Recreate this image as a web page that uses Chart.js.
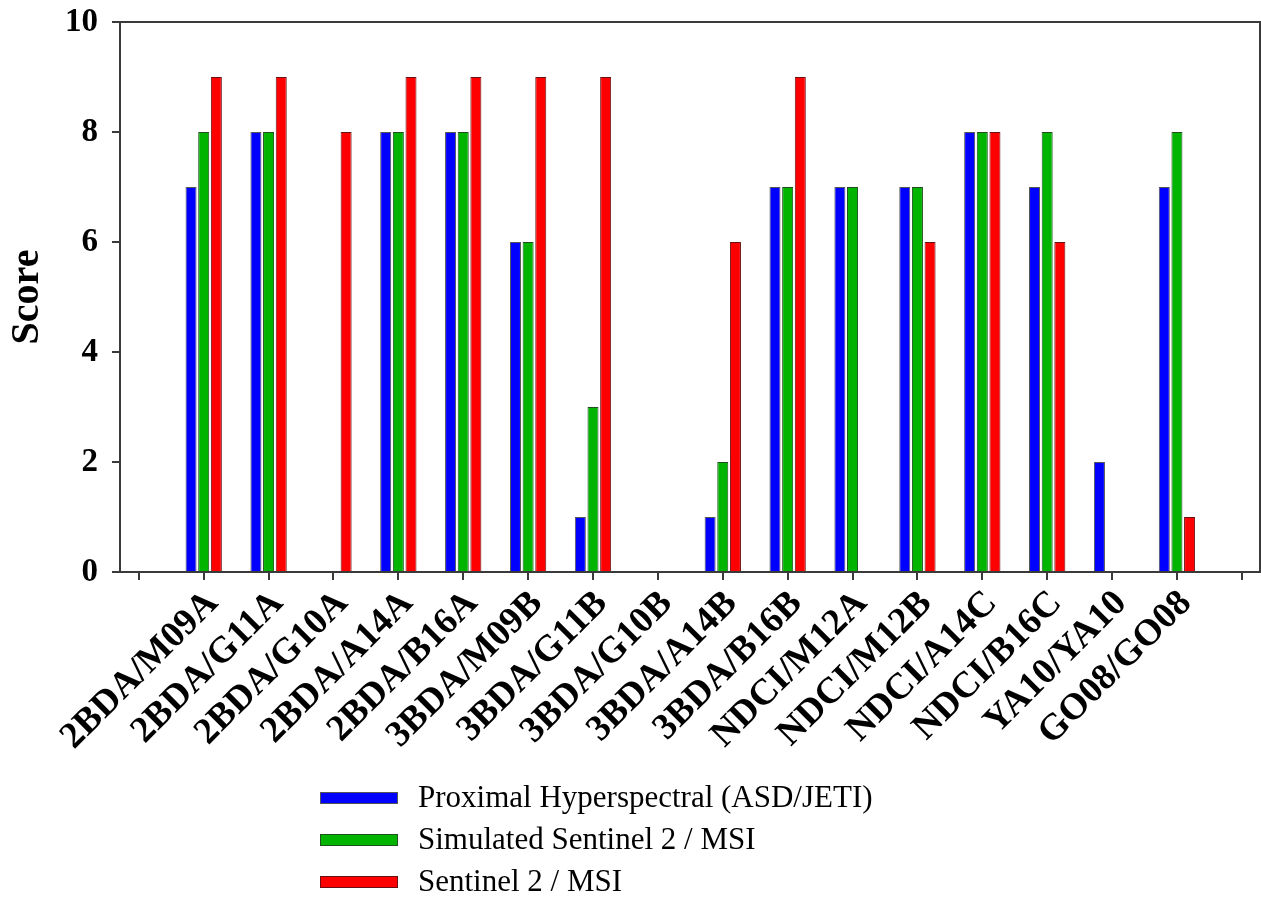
<!DOCTYPE html>
<html>
<head>
<meta charset="utf-8">
<script src="https://cdn.jsdelivr.net/npm/chart.js@4"></script>
<style>
  html, body { margin: 0; padding: 0; background: #fff; }
  #wrap { width: 1261px; height: 897px; }
</style>
</head>
<body>
<div id="wrap"><canvas id="myChart" width="1261" height="897"></canvas></div>
<script>
// categories and scores
var categories = ["2BDA/M09A", "2BDA/G11A", "2BDA/G10A", "2BDA/A14A", "2BDA/B16A", "3BDA/M09B", "3BDA/G11B", "3BDA/G10B",
                  "3BDA/A14B", "3BDA/B16B", "NDCI/M12A", "NDCI/M12B", "NDCI/A14C", "NDCI/B16C", "YA10/YA10", "GO08/GO08"];
var proximalScores  = [7, 8, 0, 8, 8, 6, 1, 0, 1, 7, 7, 7, 8, 7, 2, 7];
var simulatedScores = [8, 8, 0, 8, 8, 6, 3, 0, 2, 7, 7, 7, 8, 8, 0, 8];
var sentinelScores  = [9, 9, 8, 9, 9, 9, 9, 0, 6, 9, 0, 6, 8, 6, 0, 1];
var yTicks = [0, 2, 4, 6, 8, 10];

var serif = "'Times New Roman', 'Liberation Serif', serif";
var axisColor = '#3a3a3a';

// turn a score list into {x, y} points, x = 1..16
function toPoints(values) {
    return values.map(function (v, i) { return { x: i + 1, y: v }; });
}

/******************************************************/
// box round the plot + the stacked legend under the axis
var framePlugin = {
    id: 'frame',
    afterDraw: function (chart) {
        var ctx = chart.ctx;
        var a = chart.chartArea;
        ctx.save();
        ctx.strokeStyle = axisColor;
        ctx.lineWidth = 2;
        ctx.beginPath();
        ctx.moveTo(a.left, a.top);
        ctx.lineTo(a.right, a.top);
        ctx.lineTo(a.right, a.bottom);
        ctx.stroke();

        // legend rows
        chart.data.datasets.forEach(function (ds, i) {
            var y = 798 + i * 42;
            ctx.fillStyle = ds.backgroundColor;
            ctx.fillRect(320, y - 6, 78, 12);
            ctx.strokeStyle = ds.borderColor;
            ctx.lineWidth = 1;
            ctx.strokeRect(320.5, y - 5.5, 77, 11);
            ctx.fillStyle = '#000';
            ctx.font = '31px ' + serif;
            ctx.textBaseline = 'middle';
            ctx.textAlign = 'left';
            ctx.fillText(ds.label, 418, y + 1);
        });
        ctx.restore();
    }
};

var ctx = document.getElementById("myChart").getContext('2d');
var myBarChart = new Chart(ctx, {
    type: 'bar',
    data: {
        datasets: [
            {
                label: 'Proximal Hyperspectral (ASD/JETI)',
                data: toPoints(proximalScores),
                backgroundColor: '#0000ff',
                borderColor: '#555555',
                borderWidth: 1
            }, {
                label: 'Simulated Sentinel 2 / MSI',
                data: toPoints(simulatedScores),
                backgroundColor: '#00b400',
                borderColor: '#1f4f1f',
                borderWidth: 1
            }, {
                label: 'Sentinel 2 / MSI',
                data: toPoints(sentinelScores),
                backgroundColor: '#ff0000',
                borderColor: '#6a1010',
                borderWidth: 1
            }]
    },
    options: {
        responsive: false,
        animation: false,
        categoryPercentage: 0.585,
        barPercentage: 0.87,
        layout: { padding: { top: 22, right: 1, bottom: 125, left: 0 } },
        plugins: {
            legend: { display: false },
            tooltip: { enabled: false }
        },
        scales: {
            x: {
                type: 'linear',
                offset: false,
                min: -0.29,
                max: 17.28,
                afterBuildTicks: function (scale) {
                    var t = [];
                    for (var i = 0; i <= categories.length + 1; i++) t.push({ value: i });
                    scale.ticks = t;
                },
                afterFit: function (scale) {
                    scale.height = 200;
                    scale.paddingLeft = 0;
                    scale.paddingRight = 0;
                },
                grid: { offset: false, drawOnChartArea: false, drawTicks: true, tickLength: 8, color: axisColor, lineWidth: 2 },
                border: { display: true, color: axisColor, width: 2 },
                ticks: {
                    autoSkip: false,
                    minRotation: 45,
                    maxRotation: 45,
                    padding: 2,
                    labelOffset: 9,
                    color: '#000',
                    font: { family: serif, size: 37, weight: 'bold' },
                    callback: function (value) {
                        return categories[value - 1] || '';
                    }
                }
            },
            y: {
                min: 0,
                max: 10,
                afterBuildTicks: function (scale) {
                    scale.ticks = yTicks.map(function (v) { return { value: v }; });
                },
                afterFit: function (scale) {
                    scale.width = 120;
                    scale.paddingTop = 0;
                    scale.paddingBottom = 0;
                },
                grid: { drawOnChartArea: false, drawTicks: true, tickLength: 8, color: axisColor, lineWidth: 2 },
                border: { display: true, color: axisColor, width: 2 },
                ticks: {
                    padding: 14,
                    color: '#000',
                    font: { family: serif, size: 33, weight: 'bold' }
                },
                title: {
                    display: true,
                    text: 'Score',
                    color: '#000',
                    padding: { top: 4, bottom: 0 },
                    font: { family: serif, size: 40, weight: 'bold' }
                }
            }
        }
    },
    plugins: [framePlugin]
});
</script>
</body>
</html>
